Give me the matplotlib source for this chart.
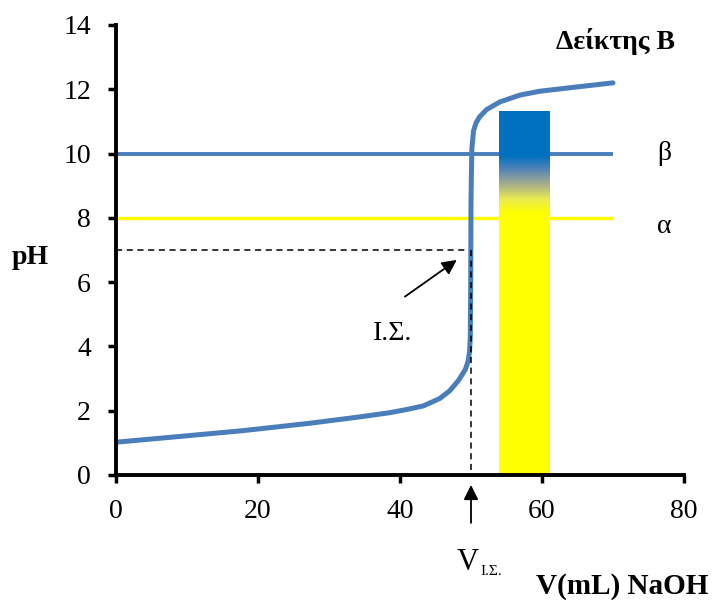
import numpy as np
import matplotlib
matplotlib.use("Agg")
import matplotlib.pyplot as plt
from matplotlib.colors import LinearSegmentedColormap

plt.rcParams['font.family'] = ['Liberation Serif', 'DejaVu Serif']

# Titration curve: volume of NaOH (mL) vs pH
volume = [0, 8.5, 17.9, 27.3, 34.4, 38.6, 41.0, 43.3, 45.6, 47.0, 48.2, 49.2,
          49.6, 49.8, 49.9, 49.96, 50.0, 50.05, 50.12, 50.35, 50.7, 51.2, 52.2,
          54.1, 56.9, 59.7, 64.4, 70]
ph = [1.02, 1.19, 1.38, 1.61, 1.81, 1.94, 2.04, 2.15, 2.38, 2.62, 2.93, 3.28,
      3.55, 3.85, 4.3, 6.07, 8.5, 9.28, 10.15, 10.7, 10.95, 11.14, 11.37,
      11.61, 11.82, 11.94, 12.06, 12.2]

# Indicator B transition range (α = acid form limit, β = base form limit)
ph_alpha = 8
ph_beta = 10
v_eq = 50
ph_eq = 7

# Indicator colour bar
bar_v = [54.0, 61.1]
bar_top = 11.32

x_ticks = [0, 20, 40, 60, 80]
y_ticks = [0, 2, 4, 6, 8, 10, 12, 14]

fig = plt.figure(figsize=(7.12, 6.0), dpi=100)
ax = fig.add_axes([116 / 712, 1 - 475 / 600, 568 / 712, 450 / 600])
ax.set_xlim(0, 80)
ax.set_ylim(0, 14)

line_blue = '#4a7ebb'

# reference lines for the indicator range
ax.plot([0, 70], [ph_beta, ph_beta], color=line_blue, lw=2.8, zorder=2,
        solid_capstyle='butt')
ax.plot([0, 70], [ph_alpha, ph_alpha], color='#ffff00', lw=2.4, zorder=2,
        solid_capstyle='butt')

# equivalence point guides
ax.plot([0, v_eq], [ph_eq, ph_eq], color='black', lw=1.1, ls=(0, (4, 3)), zorder=2)
ax.plot([v_eq, v_eq], [ph_eq, 0], color='black', lw=1.1, ls=(0, (4, 3)), zorder=5)

# gradient bar: yellow below the transition, blue above β, blend in between
lo, hi = 8.15, 9.95
span = hi - lo
grad = LinearSegmentedColormap.from_list(
    'ind', [(0.0, '#ffff00'),
            (lo / bar_top, '#ffff00'),
            ((lo + 0.25 * span) / bar_top, '#ebeb52'),
            ((lo + 0.5 * span) / bar_top, '#a8b08a'),
            ((lo + 0.75 * span) / bar_top, '#5a86b6'),
            (hi / bar_top, '#0070c0'),
            (1.0, '#0070c0')])
yy = np.linspace(0, 1, 600).reshape(-1, 1)
ax.imshow(yy, cmap=grad, aspect='auto', origin='lower',
          extent=[bar_v[0], bar_v[1], 0, bar_top], zorder=3, interpolation='bilinear')

# titration curve
ax.plot(volume, ph, color=line_blue, lw=3.6, zorder=4,
        solid_capstyle='round', solid_joinstyle='round')

# arrow to equivalence point
ax.annotate('', xy=(48.0, 6.69), xytext=(40.7, 5.55),
            arrowprops=dict(arrowstyle='-|>', color='black', lw=1.3,
                            mutation_scale=22, shrinkA=0, shrinkB=0), zorder=5)
ax.text(39.0, 4.39, 'Ι.Σ.', fontsize=20, ha='center', va='center')

# arrow under the axis marking V at equivalence
ax.annotate('', xy=(v_eq, -0.31), xytext=(v_eq, -1.49),
            arrowprops=dict(arrowstyle='-|>', color='black', lw=1.3,
                            mutation_scale=22, shrinkA=0, shrinkB=0),
            annotation_clip=False)
ax.text(49.5, -2.72, 'V', fontsize=22, ha='center', va='center', clip_on=False)
ax.text(52.8, -3.0, 'Ι.Σ.', fontsize=11, ha='center', va='center', clip_on=False)

# labels for indicator lines
ax.text(77.2, ph_beta, 'β', fontsize=20, ha='center', va='center')
ax.text(77.2, ph_alpha - 0.28, 'α', fontsize=20, ha='center', va='center')
ax.text(78.7, 13.5, 'Δείκτης B', fontsize=20, fontweight='bold', ha='right', va='center')

# axis titles
fig.text(30 / 712, 1 - 257 / 600, 'pH', fontsize=20, fontweight='bold',
         ha='center', va='center')
fig.text(708 / 712, 1 - 587 / 600, 'V(mL) NaOH', fontsize=21, fontweight='bold',
         ha='right', va='center')

ax.set_xticks(x_ticks)
ax.set_yticks(y_ticks)
ax.tick_params(axis='both', direction='out', length=6, width=2.5,
               labelsize=20, color='black')
ax.tick_params(axis='y', pad=12)
ax.tick_params(axis='x', pad=11)

for side in ['top', 'right']:
    ax.spines[side].set_visible(False)
for side in ['left', 'bottom']:
    ax.spines[side].set_linewidth(2.8)
    ax.spines[side].set_zorder(6)

fig.savefig('out.png', dpi=100)
